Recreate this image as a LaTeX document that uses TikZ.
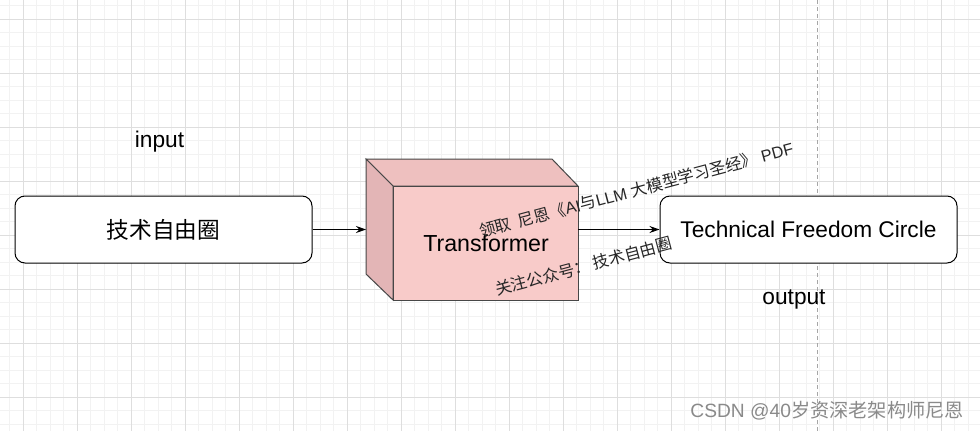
\documentclass[tikz,border=0pt]{standalone}
\usepackage{fontspec}
\setmainfont{Liberation Sans}
\newfontfamily\cjk{Noto Sans CJK SC}
\usetikzlibrary{arrows.meta}
\definecolor{gridminor}{HTML}{F2F2F2}
\definecolor{gridmajor}{HTML}{DEDEDE}
\definecolor{cubefront}{HTML}{F8CBC9}
\definecolor{cubetop}{HTML}{EEC0BF}
\definecolor{cubeleft}{HTML}{E3B5B6}
\definecolor{cubeline}{HTML}{474747}
\definecolor{wmgray}{HTML}{8A8A8A}
\tikzset{
  roundbox/.style={draw=black, line width=1pt, rounded corners=10pt, fill=white, minimum width=297pt, minimum height=67pt, inner sep=0pt, font=\fontsize{22.7}{27}\selectfont},
  lbl/.style={font=\fontsize{22.7}{27}\selectfont, inner sep=0pt},
  conn/.style={line width=1pt, -{Stealth[length=10pt,width=7pt]}},
  wm/.style={font=\fontsize{16.3}{19}\selectfont, text=black!85, inner sep=0pt, rotate=15, anchor=base west},
  face/.style={draw=cubeline, line width=1pt, line join=miter}
}
\begin{document}
\begin{tikzpicture}[x=1pt,y=-1pt]
\useasboundingbox (0,0) rectangle (980,431);
\fill[white] (0,0) rectangle (980,431);
% grid
\foreach \i in {0,...,72} {
  \draw[gridminor, line width=0.8pt] (9.8+13.5*\i,0) -- (9.8+13.5*\i,431);
}
\foreach \i in {0,...,32} {
  \draw[gridminor, line width=0.8pt] (0,5.8+13.5*\i) -- (980,5.8+13.5*\i);
}
\foreach \i in {0,...,18} {
  \draw[gridmajor, line width=0.8pt] (23.3+54*\i,0) -- (23.3+54*\i,431);
}
\foreach \i in {0,...,7} {
  \draw[gridmajor, line width=0.8pt] (0,19.3+54*\i) -- (980,19.3+54*\i);
}
% dashed page break line
\draw[gray!70, line width=0.8pt, dash pattern=on 4pt off 3pt] (817,0) -- (817,431);

% nodes
\node[roundbox] (left) at (163.5,229.5) {\cjk 技术自由圈};
\node[roundbox] (right) at (808.5,229.5) {Technical Freedom Circle};

% cube
\fill[cubefront] (393,186) rectangle (578,300);
\filldraw[face, fill=cubetop] (366,159) -- (552,159) -- (578,186) -- (393,186) -- cycle;
\filldraw[face, fill=cubeleft] (366,159) -- (393,186) -- (393,300) -- (366,274) -- cycle;
\draw[face] (393,186) rectangle (578,300);
\coordinate (cubeL) at (366,229.5);
\coordinate (cubeR) at (578,229.5);
\node[lbl] (tf) at (486,243) {\fontsize{23.2}{27}\selectfont Transformer};

% connectors
\draw[conn] (left.east) -- (cubeL);
\draw[conn] (cubeR) -- (right.west);

% labels
\node[lbl, anchor=base] (inp) at (159.5,147) {input};
\node[lbl, anchor=base] (outp) at (794,304) {output};

% watermark text
\node[wm] (wm1) at (481,238) {{\cjk 领取\ \ 尼恩《}AI{\cjk 与}LLM {\cjk 大模型学习圣经》} PDF};
\node[wm] (wm2) at (497,296) {{\cjk 关注公众号：}\hspace{3pt}{\cjk 技术自由圈}};

% CSDN watermark
\node[font=\fontsize{19.2}{22}\selectfont, text=wmgray, inner sep=0pt, anchor=base east] (csdn) at (964,417) {CSDN @40{\cjk 岁资深老架构师尼恩}};
\end{tikzpicture}
\end{document}
